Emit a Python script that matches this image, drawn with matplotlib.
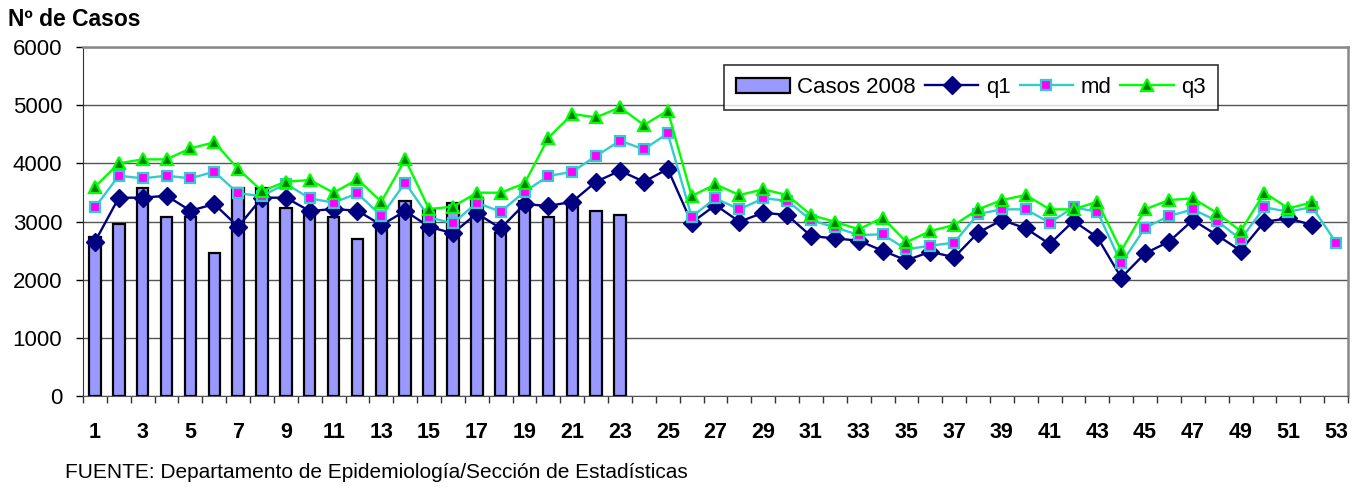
import numpy as np
import matplotlib
matplotlib.use('Agg')
import matplotlib.pyplot as plt
from matplotlib.ticker import MultipleLocator, FixedLocator

plt.rcParams['font.family'] = ['Liberation Sans', 'DejaVu Sans']

# semanas epidemiológicas
semanas = list(range(1, 54))

# casos 2008 (semanas 1-23)
casos_2008 = [2730, 2960, 3575, 3077, 3077, 2464, 3575, 3575, 3230, 3200,
              3077, 2700, 2950, 3345, 3190, 3310, 3400, 2800, 3350, 3077,
              3360, 3185, 3110]

# cuartil 1
q1 = [2653, 3409, 3409, 3443, 3185, 3300, 2910, 3409, 3409, 3180,
      3215, 3185, 2939, 3180, 2910, 2796, 3140, 2882, 3300, 3266,
      3340, 3684, 3873, 3684, 3902, 2979, 3283, 2996, 3151, 3111,
      2750, 2710, 2670, 2498, 2332, 2481, 2384, 2807, 3025, 2882,
      2613, 3008, 2728, 2034, 2453, 2653, 3025, 2768, 2498, 2996,
      3054, 2940, None]

# mediana
md = [3243, 3787, 3742, 3787, 3742, 3856, 3484, 3438, 3650, 3398,
      3323, 3484, 3094, 3667, 3071, 2968, 3323, 3168, 3512, 3782,
      3856, 4126, 4389, 4241, 4516, 3082, 3398, 3209, 3398, 3358,
      3025, 2899, 2768, 2779, 2521, 2584, 2636, 3129, 3209, 3209,
      2979, 3243, 3168, 2281, 2893, 3094, 3209, 3014, 2694, 3243,
      3168, 3249, 2636]

# cuartil 3
q3 = [3598, 4000, 4068, 4068, 4258, 4361, 3902, 3524, 3684, 3713,
      3495, 3724, 3340, 4068, 3215, 3254, 3495, 3495, 3656, 4440,
      4848, 4791, 4963, 4659, 4905, 3438, 3639, 3455, 3553, 3455,
      3111, 2996, 2865, 3066, 2645, 2836, 2940, 3209, 3369, 3455,
      3209, 3209, 3340, 2498, 3209, 3369, 3398, 3151, 2836, 3495,
      3226, 3329, None]

x_lab = [str(s) for s in semanas[::2]]

fig = plt.figure(figsize=(13.62, 4.87), dpi=100)
ax = fig.add_axes([83 / 1362, 1 - 396 / 487, (1348 - 83) / 1362, (396 - 47) / 487])

barras = ax.bar(semanas[:len(casos_2008)], casos_2008, width=0.48, color='#9999FF',
                edgecolor='black', linewidth=1.6, label='Casos 2008', zorder=2)

q1_arr = np.array([np.nan if v is None else v for v in q1], dtype=float)
md_arr = np.array([np.nan if v is None else v for v in md], dtype=float)
q3_arr = np.array([np.nan if v is None else v for v in q3], dtype=float)

l1, = ax.plot(semanas, q1_arr, color='#000080', lw=1.7, marker='D', markersize=9,
              markerfacecolor='#000080', markeredgecolor='#000080', label='q1', zorder=3)
l2, = ax.plot(semanas, md_arr, color='#33CCCC', lw=1.7, marker='s', markersize=6.5,
              markerfacecolor='#FF00FF', markeredgecolor='#33CCCC', markeredgewidth=1.6,
              label='md', zorder=4)
l3, = ax.plot(semanas, q3_arr, color='#00FF00', lw=1.7, marker='^', markersize=8.5,
              markerfacecolor='#008000', markeredgecolor='#00FF00', markeredgewidth=1.6,
              label='q3', zorder=5)

ax.set_xlim(0.5, 53.5)
ax.set_ylim(0, 6000)
ax.yaxis.set_major_locator(MultipleLocator(1000))
ax.grid(axis='y', color='#555555', lw=1, zorder=0)
ax.set_axisbelow(True)

ax.xaxis.set_major_locator(FixedLocator(semanas[::2]))
ax.set_xticklabels(x_lab, fontsize=15.5, fontweight='bold')
ax.xaxis.set_minor_locator(FixedLocator(np.arange(0.5, 54, 1)))
ax.tick_params(axis='x', which='major', length=0, pad=19)
ax.tick_params(axis='x', which='minor', length=5, width=1, color='#333333')
ax.tick_params(axis='y', which='major', length=5, width=1, pad=10, labelsize=16)

for s in ['top', 'right']:
    ax.spines[s].set_color('#888888')
    ax.spines[s].set_linewidth(1.8)
ax.spines['left'].set_color('#333333')
ax.spines['bottom'].set_color('#555555')

leg = ax.legend([barras, l1, l2, l3], ['Casos 2008', 'q1', 'md', 'q3'],
                loc='upper left', bbox_to_anchor=((724 - 83) / 1265, (396 - 65) / 349),
                ncol=4, fontsize=16, frameon=True, fancybox=False, borderpad=0.55,
                handlelength=2.4, columnspacing=0.4, handletextpad=0.35, borderaxespad=0)
leg.get_frame().set_edgecolor('black')
leg.get_frame().set_linewidth(1.2)

fig.text(8 / 1362, 1 - 20 / 487, 'Nº de Casos', fontsize=16.5, fontweight='bold',
         va='center', ha='left')
fig.text(65 / 1362, 1 - 472 / 487, 'FUENTE: Departamento de Epidemiología/Sección de Estadísticas',
         fontsize=15, va='center', ha='left')

fig.savefig('out.png', dpi=100)
